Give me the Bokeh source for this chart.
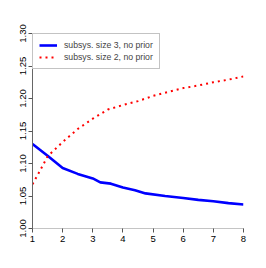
from bokeh.plotting import figure
from bokeh.models import Legend, LegendItem, FixedTicker, NumeralTickFormatter
from bokeh.embed import file_html
from bokeh.resources import INLINE

# data
x_size3 = [1, 1.5, 2, 2.5, 3, 3.25, 3.6, 4, 4.4, 4.75, 5.4, 6, 6.5, 7, 7.5, 8]
y_size3 = [1.130, 1.112, 1.093, 1.084, 1.077, 1.071, 1.069, 1.063, 1.059, 1.054,
           1.050, 1.047, 1.044, 1.042, 1.039, 1.037]
x_size2 = [1, 1.25, 1.5, 2, 2.5, 3, 3.5, 4, 4.5, 5, 5.5, 6, 6.5, 7, 7.5, 8]
y_size2 = [1.068, 1.089, 1.111, 1.133, 1.153, 1.169, 1.183, 1.190, 1.196, 1.204,
           1.210, 1.216, 1.220, 1.225, 1.229, 1.234]
x_ticks = [1, 2, 3, 4, 5, 6, 7, 8]
y_ticks = [1.00, 1.05, 1.10, 1.15, 1.20, 1.25, 1.30]
labels = ["subsys. size 3, no prior", "subsys. size 2, no prior"]

FONT = "Liberation Sans"

p = figure(frame_width=211, frame_height=195, x_range=(1, 8), y_range=(1.0, 1.3),
           output_backend="svg", toolbar_location=None,
           min_border_left=32, min_border_right=15, min_border_top=33, min_border_bottom=32)
p.outline_line_color = None
p.grid.visible = False

r3 = p.line(x_size3, y_size3, line_color="#0000ff", line_width=2.6)
r2 = p.line(x_size2, y_size2, line_color="#ff0000", line_width=2, line_dash="2 4")

for ax in (p.xaxis, p.yaxis):
    ax.major_label_text_font = FONT
    ax.major_label_text_font_size = "9.5px"
    ax.major_label_text_color = "#000000"
    ax.minor_tick_line_color = None
    ax.major_tick_out = 4
    ax.major_tick_in = 0
    ax.major_tick_line_color = "#555555"
    ax.major_label_standoff = 3

p.xaxis.ticker = FixedTicker(ticks=x_ticks)
p.yaxis.ticker = FixedTicker(ticks=y_ticks)
p.yaxis.formatter = NumeralTickFormatter(format="0.00")
p.yaxis.major_label_orientation = "vertical"
p.yaxis.axis_line_color = "#666666"
p.xaxis.axis_line_color = "#888888"
p.xaxis.axis_line_dash = "1 1"

legend = Legend(items=[LegendItem(label=labels[0], renderers=[r3]),
                       LegendItem(label=labels[1], renderers=[r2])],
                location="top_left")
legend.margin = 0
legend.padding = 6
legend.spacing = 2
legend.glyph_width = 18
legend.glyph_height = 10
legend.label_height = 10
legend.label_standoff = 7
legend.label_text_font = FONT
legend.label_text_font_size = "8.7px"
legend.border_line_color = "#888888"
legend.border_line_width = 1.5
legend.background_fill_alpha = 1
p.add_layout(legend)

open("out.html", "w").write(file_html(p, INLINE))
